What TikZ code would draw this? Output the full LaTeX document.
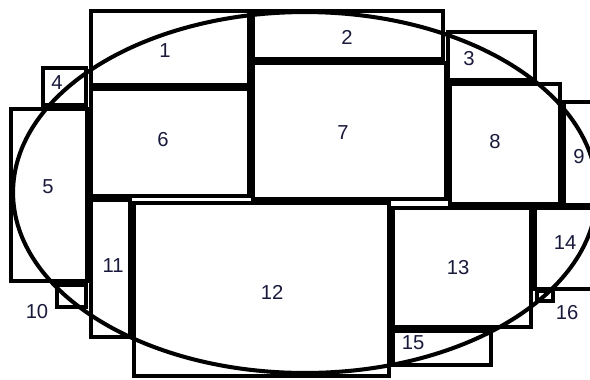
\documentclass[tikz,border=0pt]{standalone}
\usepackage{fontspec}
\setmainfont{Liberation Sans}
\begin{document}
\begin{tikzpicture}[
    x=0.02cm, y=-0.02cm,
    box/.style={draw,line width=2.4pt},
    oval/.style={draw,line width=2.3pt},
    num/.style={inner sep=0pt,text={rgb,255:red,25;green,25;blue,60},font=\fontsize{11.5}{12}\selectfont}
]
\useasboundingbox (0,0) rectangle (590,379);
\clip (0,0) rectangle (590,379);

\draw[box] (91,11)   rectangle (249,85);
\draw[box] (253,11)  rectangle (443,59);
\draw[box] (448,32)  rectangle (535,80);
\draw[box] (43,68)   rectangle (86,105);
\draw[box] (11,109)  rectangle (87,281);
\draw[box] (91,89)   rectangle (249,196);
\draw[box] (253,63)  rectangle (446,199);
\draw[box] (450,84)  rectangle (560,204);
\draw[box] (564,102) rectangle (620,205);
\draw[box] (57,285)  rectangle (86,307);
\draw[box] (91,200)  rectangle (130,337);
\draw[box] (134,203) rectangle (389,376);
\draw[box] (393,208) rectangle (531,327);
\draw[box] (535,208) rectangle (620,289);
\draw[box] (393,331) rectangle (491,365);
\draw[box] (537,291) rectangle (553,301);

\draw[oval] (305,192.5) ellipse [x radius=5.84cm, y radius=3.61cm];

\node[num] (n1)  at (165,51)  {1};
\node[num] (n2)  at (347,37)  {2};
\node[num] (n3)  at (469,59)  {3};
\node[num] (n4)  at (57,83)   {4};
\node[num] (n5)  at (48,187)  {5};
\node[num] (n6)  at (163,140) {6};
\node[num] (n7)  at (343,133) {7};
\node[num] (n8)  at (495,142) {8};
\node[num] (n9)  at (579,157) {9};
\node[num] (n10) at (37,312)  {10};
\node[num] (n11) at (113,266) {11};
\node[num] (n12) at (272,292) {12};
\node[num] (n13) at (458,268) {13};
\node[num] (n14) at (565,243) {14};
\node[num] (n15) at (413,343) {15};
\node[num] (n16) at (567,313) {16};
\end{tikzpicture}
\end{document}
